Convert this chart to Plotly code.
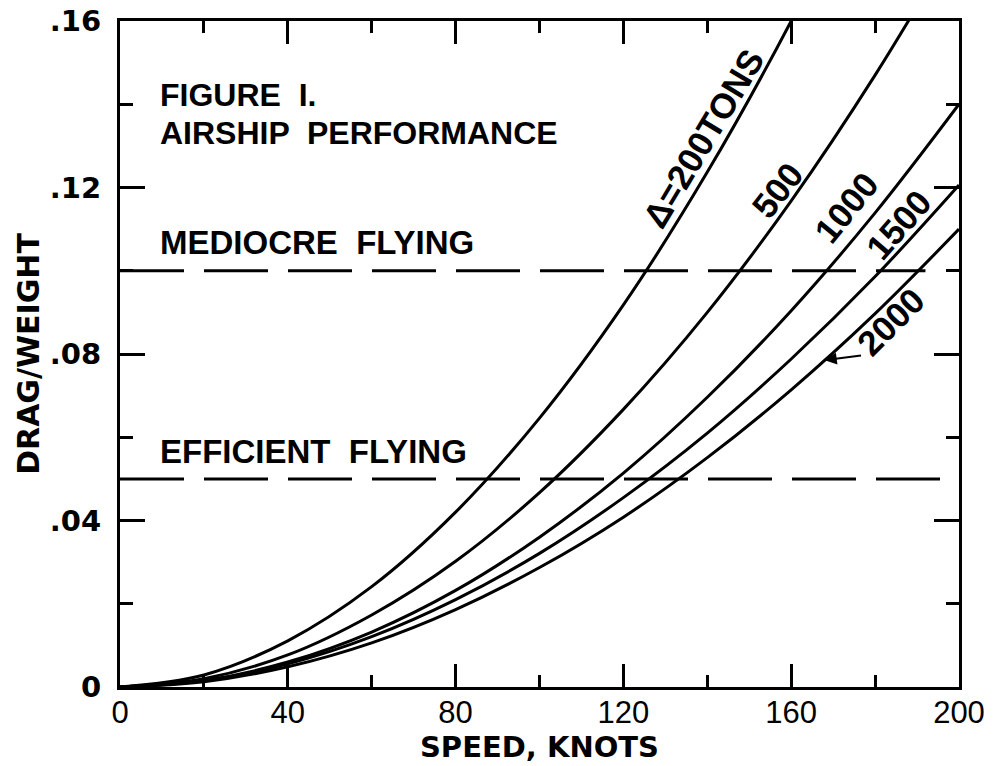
import plotly.graph_objects as go

# ---- data ----
speed_200 = [0, 20, 40, 60, 80, 100, 120, 140, 160, 180]
dw_200 = [0, 0.0029, 0.0111, 0.0241, 0.0420, 0.0646, 0.0918, 0.1237, 0.1600, 0.2008]

speed_500 = [0, 20, 40, 60, 80, 100, 120, 140, 160, 180, 200]
dw_500 = [0, 0.0020, 0.0077, 0.0173, 0.0302, 0.0467, 0.0667, 0.0900, 0.1168, 0.1470, 0.1805]

speed_1000 = [0, 20, 40, 60, 80, 100, 120, 140, 160, 180, 200]
dw_1000 = [0, 0.00154, 0.0060, 0.0132, 0.0232, 0.0360, 0.0514, 0.0696, 0.0904, 0.1139, 0.1400]

speed_1500 = [0, 20, 40, 60, 80, 100, 120, 140, 160, 180, 200]
dw_1500 = [0, 0.00148, 0.00557, 0.0121, 0.0210, 0.0321, 0.0455, 0.0610, 0.0788, 0.0986, 0.1206]

speed_2000 = [0, 20, 40, 60, 80, 100, 120, 140, 160, 180, 200]
dw_2000 = [0, 0.00126, 0.00485, 0.0106, 0.0186, 0.0287, 0.0408, 0.0551, 0.0714, 0.0897, 0.1100]

series = [
    (speed_200, dw_200),
    (speed_500, dw_500),
    (speed_1000, dw_1000),
    (speed_1500, dw_1500),
    (speed_2000, dw_2000),
]

# curve labels: text, x, y, angle
curve_labels = ["\u0394=200TONS", "500", "1000", "1500", "2000"]
label_x = [139.2, 156.6, 173.1, 185.7, 183.8]
label_y = [0.1319, 0.1194, 0.1153, 0.1110, 0.0877]
label_angle = [-59, -52, -51, -49, -45]

# figure caption lines
caption_lines = ["FIGURE  I.", "AIRSHIP  PERFORMANCE"]
caption_y = [0.1422, 0.1332]

# reference levels
level_values = [0.10, 0.05]
level_ends = [192, 200]
level_labels = ["MEDIOCRE  FLYING", "EFFICIENT  FLYING"]
level_label_y = [0.1069, 0.0565]

x_tickvals = [0, 40, 80, 120, 160, 200]
x_ticktext = ["0", "40", "80", "120", "160", "200"]
y_tickvals = [0, 0.04, 0.08, 0.12, 0.16]
y_ticktext = ["0", ".04", ".08", ".12", ".16"]

FONT = "Liberation Sans, Arial, sans-serif"
WIDE = "DejaVu Sans, Verdana, sans-serif"

fig = go.Figure()

for xs, ys in series:
    fig.add_trace(go.Scatter(x=xs, y=ys, mode="lines",
                             line=dict(color="black", width=3, shape="spline", smoothing=1.0),
                             showlegend=False, hoverinfo="skip"))

for v, xe in zip(level_values, level_ends):
    fig.add_trace(go.Scatter(x=[0, xe], y=[v, v], mode="lines",
                             line=dict(color="black", width=3, dash="64px,20px"),
                             showlegend=False, hoverinfo="skip"))

for t, x, y, a in zip(curve_labels, label_x, label_y, label_angle):
    fig.add_annotation(x=x, y=y, text=t, textangle=a, showarrow=False,
                       font=dict(family=FONT, size=35, color="black", weight="bold"))

# arrow from "2000" label to its curve
fig.add_annotation(x=168, y=0.0785, ax=177.0, ay=0.0797, axref="x", ayref="y",
                   text="", showarrow=True, arrowhead=2, arrowsize=1.2,
                   arrowwidth=2, arrowcolor="black")

for t, y in zip(caption_lines, caption_y):
    fig.add_annotation(x=9.0, y=y, xanchor="left", yanchor="middle", text=t,
                       showarrow=False,
                       font=dict(family=FONT, size=32, color="black", weight="bold"))

for t, y in zip(level_labels, level_label_y):
    fig.add_annotation(x=9.0, y=y, xanchor="left", yanchor="middle", text=t,
                       showarrow=False,
                       font=dict(family=FONT, size=33, color="black", weight="bold"))

fig.update_layout(
    width=998, height=766,
    margin=dict(l=120, r=39, t=21, b=79),
    paper_bgcolor="white", plot_bgcolor="white",
    xaxis=dict(range=[0, 200], tickmode="array", tickvals=x_tickvals, ticktext=x_ticktext,
               automargin=False, ticklabelstandoff=-4,
               ticks="inside", ticklen=23, tickwidth=2.5, tickcolor="black",
               minor=dict(tickmode="linear", tick0=0, dtick=20, ticks="inside",
                          ticklen=12, tickwidth=2.5, tickcolor="black", showgrid=False),
               showline=True, linecolor="black", linewidth=3, mirror="allticks",
               showgrid=False, zeroline=False,
               tickfont=dict(family=FONT, size=31, color="black"),
               title=dict(text="SPEED, KNOTS", standoff=0,
                          font=dict(family=WIDE, size=29, color="black", weight="bold"))),
    yaxis=dict(range=[0, 0.16], tickmode="array", tickvals=y_tickvals, ticktext=y_ticktext,
               automargin=False, ticklabelstandoff=10,
               ticks="inside", ticklen=25, tickwidth=2.5, tickcolor="black",
               minor=dict(tickmode="linear", tick0=0, dtick=0.02, ticks="inside",
                          ticklen=13, tickwidth=2.5, tickcolor="black", showgrid=False),
               showline=True, linecolor="black", linewidth=3, mirror="allticks",
               showgrid=False, zeroline=False,
               tickfont=dict(family=WIDE, size=29, color="black", weight="bold"),
               title=dict(text="DRAG/WEIGHT", standoff=2,
                          font=dict(family=WIDE, size=30, color="black", weight="bold"))),
)

fig.write_html("out.html", config={"displayModeBar": False},
               post_script="document.body.style.margin='0';document.body.style.overflow='hidden';")
